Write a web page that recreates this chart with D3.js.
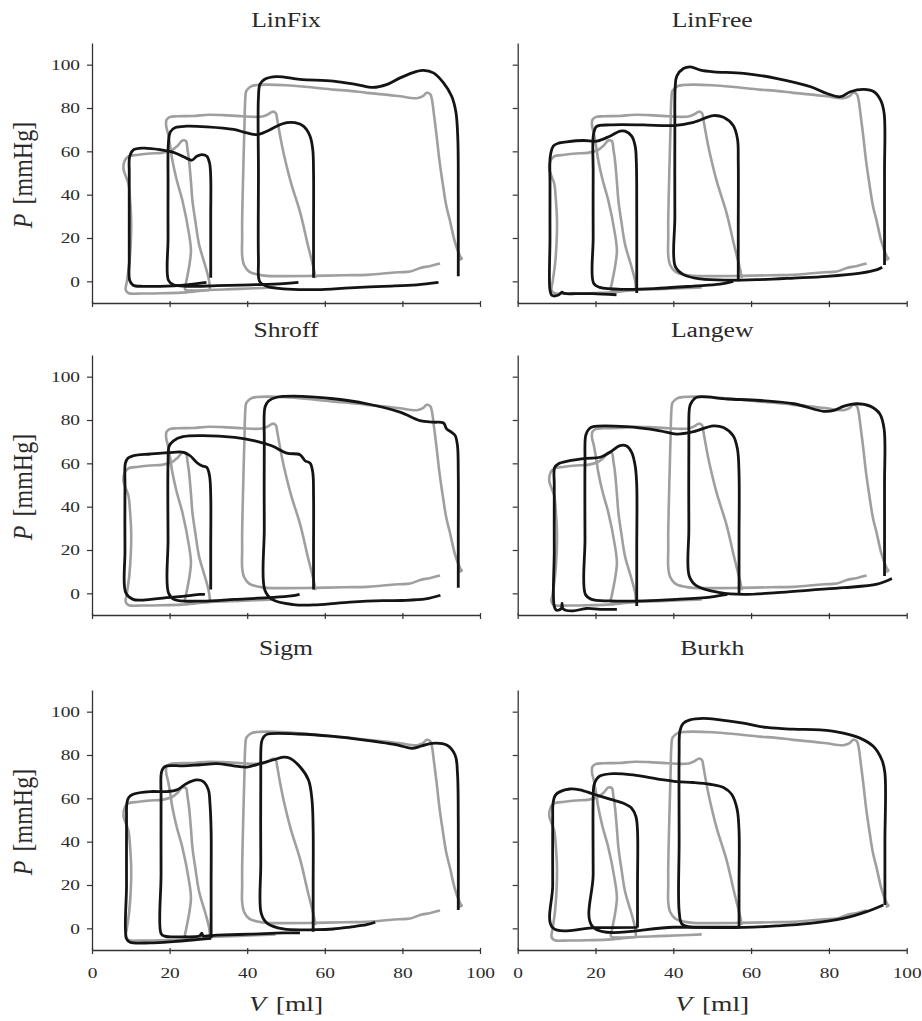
<!DOCTYPE html>
<html>
<head>
<meta charset="utf-8">
<script src="https://cdn.jsdelivr.net/npm/d3@7"></script>
<style>
  body { margin: 0; background: #fff; }
  svg { display: block; }
</style>
</head>
<body>
<svg width="922" height="1021"></svg>
<script>
const panelTitles = ["LinFix", "LinFree", "Shroff", "Langew", "Sigm", "Burkh"];
const volumeTicks = [0, 20, 40, 60, 80, 100];
const pressureTicks = [0, 20, 40, 60, 80, 100];

// measured loops (grey), same in every panel: [V ml, P mmHg]
const measuredSmall = [[30.4,-4],[27,-4.6],[23,-5.2],[18,-5.5],[13,-5.6],[9.5,-5.5],[8.7,-4],[9,0],[9.6,8],[10,18],[10.1,28],[9.8,38],[9.4,45],[8.6,49],[8.1,52],[8.4,55.5],[9.3,57.6],[12,58.4],[15,59],[18,59.3],[20.5,60.5],[22,62.5],[23.3,65],[24.2,64.8],[24.6,61],[25,56],[25.5,46],[25.9,37],[26.7,27],[27.6,17],[29.3,6.5],[30.2,0],[30.4,-4]];
const measuredMid = [[47.3,-2.8],[42,-3.2],[36,-3.6],[30,-4],[26,-4.2],[24,-3.8],[24.2,-1],[25,6.5],[25.5,14],[25,21.9],[23.3,37.3],[21.8,47],[20.7,56],[20.1,63],[19.6,68],[19.1,72],[19.2,74.5],[20,75.8],[22,76.2],[26,76.3],[30.2,76.9],[35,76.6],[38.7,76.2],[42,75.9],[44.2,76.2],[45.6,77.3],[46.5,78.3],[47.4,77.6],[47.7,75],[48.6,66],[49.4,59],[51.2,46],[53.7,31.5],[55.6,17],[57.2,5.4],[57.6,1.5]];
const measuredLarge = [[89.7,8.2],[87,7],[84.6,6.2],[82,4.5],[79,4.2],[75,3.6],[70.8,3],[65,2.8],[57.1,2.5],[50,2.4],[45,2.5],[43,3],[40.5,4.5],[39.2,7.5],[38.7,12],[38.7,20],[38.7,28.4],[38.9,45],[39.1,59],[39.3,72],[39.5,84],[39.8,88],[41,90],[42.5,90.6],[45.1,90.8],[50,90.5],[55,89.8],[62.3,88.5],[66,88],[70.8,87],[75,86.3],[79.4,85.4],[83.7,84.5],[85.3,85.5],[86.3,87],[87.2,86.3],[87.6,84],[88.2,76],[88.8,67.5],[89.6,55],[90.5,43.9],[91.3,35],[92.2,28.4],[93.6,17.7],[94.9,11.5],[95.3,10.5],[94.6,10]];

// model loops (black)
const linFixSmall = [[29.5,-0.5],[24.4,-1.6],[17.5,-2.3],[13.2,-2.3],[10.6,-1.8],[9.7,0.5],[9.6,10],[9.6,30],[9.6,50],[9.7,57.5],[10.6,60.6],[13.2,61.5],[17.5,60.8],[21,59.5],[23.6,57.5],[25.7,55.9],[27,57.7],[28.3,58.5],[29.6,57.7],[30.3,54.6],[30.6,48],[30.6,30],[30.6,10],[30.6,1.6]];
const linFixMid = [[53.2,-0.5],[49.3,-1.1],[40.7,-1.6],[32.2,-2],[24.4,-2.3],[21,-1.6],[19.7,0.5],[19.6,20],[19.6,45],[19.7,64],[20.2,69],[21.5,71],[24.4,71.6],[29.6,71.3],[36.5,70.1],[39.9,68.5],[42.5,67.7],[45.1,69.3],[47.6,71.6],[50.2,73.2],[52.3,73.2],[54.5,71.6],[56.2,67],[56.9,60.8],[57.1,50],[57.1,25],[57.1,1.6]];
const linFixLarge = [[89.3,-0.5],[83.7,-1.6],[75.1,-2.3],[66.5,-3],[57.9,-3.8],[49.3,-3.5],[45,-2.3],[43.2,0],[42.9,10],[42.9,50],[42.9,85],[43.3,91],[44.5,93.3],[47.6,94.5],[53.6,93.2],[62.2,92.4],[68.2,90.8],[72.5,89.5],[75.9,90.8],[79.4,93.9],[83.7,96.9],[85.4,97.4],[88,96.2],[90.6,91.6],[92.7,85.4],[93.8,78],[94.3,65],[94.4,40],[94.4,2.3]];

const linFreeSmall = [[25.4,-6.2],[19.3,-5.7],[15,-5.7],[12,-5.6],[11.4,-5],[10.5,-6.3],[8.8,-6.5],[8.3,-4],[8.3,20],[8.3,45],[8.4,58],[9.2,62.5],[10.5,63.8],[12.6,64.4],[16.9,65],[20.3,64.7],[23.7,67],[26.3,69.3],[27.6,69.3],[29.3,67],[30.2,62.4],[30.5,55],[30.6,30],[30.6,-5.4]];
const linFreeMid = [[55.4,0],[52,-1.3],[45.2,-2.2],[36.5,-3.2],[28,-3.7],[21.1,-2.8],[19.5,-0.8],[19.4,20],[19.4,50],[19.5,68],[20.3,71.5],[23.7,72.2],[32.3,72.2],[40,71.9],[45.2,73.4],[50.3,76.5],[52.9,75.7],[55.4,71.9],[56.5,65.7],[56.7,55],[56.7,25],[56.7,0]];
const linFreeLarge = [[93.7,6.5],[92.4,5.4],[88.1,3.8],[79.5,2.3],[71,1.5],[62.4,0.8],[53.9,0.5],[47,1.1],[42.6,3.1],[40.5,6.9],[40.4,30],[40.4,70],[40.5,90],[40.9,94.7],[42.6,98.2],[44.4,99],[47,97.5],[50.4,96.7],[58.1,96],[66.7,93.6],[75.3,89.8],[79.5,86.7],[83,85.2],[85.5,87.5],[89,88.6],[91.6,87.5],[93.3,83.6],[94.2,77.5],[94.3,50],[94.3,7.5]];

const shroffSmall = [[29.1,-0.5],[27.8,-0.5],[24.4,-1.2],[19.2,-2],[13.2,-3.1],[10.6,-2.8],[8.7,0.3],[8.5,20],[8.5,50],[8.6,60],[9.3,62.5],[10.6,63.5],[15,64.3],[20.9,65.1],[23.6,65.1],[25.3,63.5],[27,60.4],[28.3,58.9],[29.6,58.1],[30.3,54.2],[30.6,45],[30.6,20],[30.6,1.8]];
const shroffMid = [[53.5,-0.5],[51.4,-1.2],[45.4,-2],[36.8,-2.8],[28.2,-3.6],[21.2,-2.8],[19.7,0.3],[19.6,25],[19.6,60],[19.9,68],[21,70.4],[23.4,72.3],[28.2,72.8],[36.8,72],[42,70.4],[46.3,68.1],[50.2,64.7],[53.6,64],[54.9,61.2],[56.2,60.1],[56.9,55.8],[57.1,45],[57.1,20],[57.1,1.8]];
const shroffLarge = [[89.8,-0.9],[86,-2.6],[80,-3.3],[75,-3.4],[66.5,-4.1],[58,-5.3],[51.9,-5.2],[46.4,-2.8],[44.5,1.8],[44.4,30],[44.4,70],[44.6,86],[45.5,88.8],[47.6,90.5],[51.9,91],[62.2,89.8],[70.8,87.5],[79.4,83.6],[84.5,79.7],[88,79],[90.6,78.6],[91.4,75.9],[92.7,74.3],[93.6,72.8],[94.2,68.1],[94.4,55],[94.4,25],[94.4,2.6]];

const langewSmall = [[25.5,-7.4],[21.2,-7.4],[17.7,-7],[14.3,-8.1],[12.3,-7.8],[11.6,-7],[11.4,-4.5],[11.2,-7],[10,-7.8],[9.4,-6],[9.4,20],[9.4,50],[9.5,58],[10.5,59.8],[13.4,61.2],[17.7,62.3],[21.2,62.8],[23.7,65.1],[26.3,68.2],[28,68],[29.3,65.1],[30.2,58.9],[30.6,50],[30.6,20],[30.6,-5.9]];
const langewMid = [[53.9,-0.5],[49.5,-1.7],[40.9,-2.8],[32.3,-3.5],[23.7,-3.5],[19,-2.8],[17.4,-0.5],[17.3,25],[17.3,60],[17.5,73],[18.3,75.8],[19.4,76.9],[28,76.9],[36.6,75],[40.9,73.5],[45.2,74.6],[50.3,77.3],[52.9,76.5],[55.4,72.7],[56.5,66.5],[56.9,55],[56.9,25],[56.9,-0.5]];
const langewLarge = [[96.2,6.8],[92.4,4.2],[83.8,2.6],[75.2,1.5],[66.7,0.3],[58,-0.5],[52,0.3],[46,3.4],[44.1,8],[44,30],[44,70],[44.2,86],[44.8,88.5],[46,90.5],[53.9,89.7],[62.4,89],[71,87.5],[78.7,84],[81.3,84.4],[83.9,86.4],[87.1,87.5],[90.6,86.4],[93.1,82.8],[94.2,75.8],[94.3,50],[94.3,8]];

const sigmSmall = [[30.7,-4.6],[27,-5.2],[21,-6.1],[15,-6.7],[9.8,-6.4],[8.9,-4.8],[8.9,20],[8.9,50],[9,58],[9.5,60.5],[10.6,61.9],[15,63.1],[19.3,63.1],[21.9,63.9],[24.4,66.9],[27,68.5],[28.7,67.7],[30,63.9],[30.4,57.7],[30.7,45],[30.7,20],[30.7,-4.6]];
const sigmMid = [[53.6,-2.1],[49.3,-2.1],[40.7,-2.7],[32.2,-3.1],[28.6,-3.4],[28.3,-2.2],[27.8,-3.4],[23.6,-3.9],[18.7,-3.6],[17.8,-2.4],[17.8,25],[17.8,60],[17.9,72],[18.5,74.2],[19.3,75],[23.6,75],[27.9,75.5],[32.2,76],[36.5,75],[39.9,74.4],[43.3,76],[46.8,77.8],[49.3,79],[51,78.5],[53.6,74.6],[55.8,68.5],[56.7,59.3],[57,45],[57,20],[57,-1.6]];
const sigmLarge = [[73,2.8],[70.8,1.7],[66.5,0.6],[62.2,-0.3],[57.9,-0.6],[49.3,-0.3],[45.1,2.4],[43.6,7],[43.5,30],[43.5,70],[43.7,86],[44.3,88.5],[45.3,89.7],[53.1,89.7],[61.7,88.7],[70.3,86.9],[78.9,84.6],[82.4,83.1],[85,84.2],[87.6,85.4],[91.4,84.6],[93.6,79.9],[94.2,71.4],[94.4,50],[94.4,8.5]];

const burkhSmall = [[30.8,0.4],[20,0.3],[9,0.3],[9,20],[9,50],[9.1,58],[9.7,61.5],[10.9,63.1],[13.4,64.3],[16,63.9],[19.4,62],[23.7,59.6],[27.2,57.7],[29.3,55.4],[30.4,51.5],[30.8,45],[30.8,20],[30.8,0.4]];
const burkhMid = [[56.9,0.5],[40,0.5],[19.4,0.5],[19.4,25],[19.4,60],[19.6,66],[20.2,68.6],[21.1,70.3],[24.5,71.4],[29.7,70.8],[36.5,68.8],[40.8,67.7],[45.1,67.3],[49.4,66.5],[52.9,65],[55,61.9],[56.4,55],[56.9,45],[56.9,20],[56.9,0.5]];
const burkhLarge = [[94,10.8],[89.7,7.7],[83.7,4.6],[75.1,2.3],[66.5,1.1],[58,0.4],[48,0.4],[44.3,0.7],[42.2,2],[41.5,7.9],[41.5,40],[41.5,80],[41.7,91],[42.5,94.5],[44.3,96.2],[47.7,96.9],[52,96.2],[58,94.7],[64,92.7],[70.8,91.9],[77.7,91.6],[83.7,90.1],[88,87.8],[91.4,84],[93.6,77.8],[94.4,71.7],[94.4,40],[94.4,10.8]];

const measuredLoops = [measuredSmall, measuredMid, measuredLarge];
const modelLoops = [
  [linFixSmall, linFixMid, linFixLarge],
  [linFreeSmall, linFreeMid, linFreeLarge],
  [shroffSmall, shroffMid, shroffLarge],
  [langewSmall, langewMid, langewLarge],
  [sigmSmall, sigmMid, sigmLarge],
  [burkhSmall, burkhMid, burkhLarge]
];

const svg = d3.select("svg");
const font = "'Liberation Serif', 'Times New Roman', serif";
const stretch = 1.25;

const colX = [[92, 480], [517.7, 906.7]];
const rowAxisY = [303, 615, 950];
const titleY = [27, 337, 655];
const plotH = 260;

panelTitles.forEach((title, i) => {
  const row = Math.floor(i / 2), col = i % 2;
  const x = d3.scaleLinear().domain([0, 100]).range(colX[col]);
  const y = d3.scaleLinear().domain([-10, 110]).range([rowAxisY[row], rowAxisY[row] - plotH]);
  const g = svg.append("g");

  // axes
  const xAxis = g.append("g")
    .attr("transform", `translate(0,${rowAxisY[row]})`)
    .call(d3.axisBottom(x).tickValues(volumeTicks).tickSize(4).tickSizeOuter(0).tickPadding(13.5)
      .tickFormat(row === 2 ? d3.format("d") : () => ""));
  xAxis.selectAll(".tick line").attr("y1", -2);

  const yAxis = g.append("g")
    .attr("transform", `translate(${colX[col][0]},0)`)
    .call(d3.axisLeft(y).tickValues(pressureTicks).tickSize(5).tickSizeOuter(0).tickPadding(6)
      .tickFormat(col === 0 ? d3.format("d") : () => ""));

  [xAxis, yAxis].forEach(a => {
    a.select(".domain").attr("stroke", "#333").attr("stroke-width", 1.3);
    a.selectAll(".tick line").attr("stroke", "#333").attr("stroke-width", 1.2);
    a.selectAll(".tick text")
      .attr("font-family", font).attr("font-size", 15.5).attr("fill", "#2a2a2a")
      .attr("transform", `scale(${stretch},1)`);
  });
  yAxis.selectAll(".tick text").attr("x", -12 / stretch);

  // loops
  const line = d3.line()
    .x(d => x(d[0]))
    .y(d => y(d[1]))
    .curve(d3.curveCatmullRom.alpha(0.5));

  g.selectAll(".measured")
    .data(measuredLoops)
    .join("path")
    .attr("class", "measured")
    .attr("fill", "none")
    .attr("stroke", "#9f9f9f")
    .attr("stroke-width", 2.6)
    .attr("stroke-linejoin", "round")
    .attr("d", line);

  g.selectAll(".model")
    .data(modelLoops[i])
    .join("path")
    .attr("class", "model")
    .attr("fill", "none")
    .attr("stroke", "#141414")
    .attr("stroke-width", 2.8)
    .attr("stroke-linejoin", "round")
    .attr("d", line);

  // title
  svg.append("text")
    .attr("transform", `translate(${(colX[col][0] + colX[col][1]) / 2},${titleY[row]}) scale(${stretch},1)`)
    .attr("text-anchor", "middle")
    .attr("font-family", font)
    .attr("font-size", 20.5)
    .attr("fill", "#2a2a2a")
    .text(title);

  // y label
  if (col === 0) {
    const cy = rowAxisY[row] - plotH / 2 + 2;
    const t = svg.append("text")
      .attr("transform", `translate(32,${cy}) scale(1.1,1) rotate(-90)`)
      .attr("text-anchor", "middle")
      .attr("font-family", font)
      .attr("font-size", 24)
      .attr("fill", "#2a2a2a");
    t.append("tspan").attr("font-style", "italic").text("P");
    t.append("tspan").attr("dx", 9).text("[mmHg]");
  }

  // x label
  if (row === 2) {
    const t = svg.append("text")
      .attr("transform", `translate(${(colX[col][0] + colX[col][1]) / 2},1011) scale(${stretch},1)`)
      .attr("text-anchor", "middle")
      .attr("font-family", font)
      .attr("font-size", 22)
      .attr("fill", "#2a2a2a");
    t.append("tspan").attr("font-style", "italic").text("V");
    t.append("tspan").attr("dx", 8).text("[ml]");
  }
});
</script>
</body>
</html>
